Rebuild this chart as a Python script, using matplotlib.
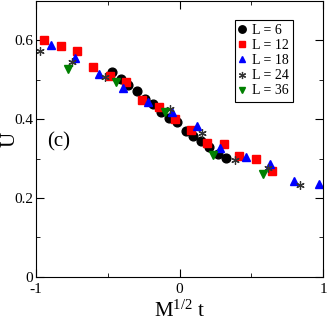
import numpy as np
import matplotlib
matplotlib.use("Agg")
import matplotlib.pyplot as plt
from matplotlib.ticker import MultipleLocator

plt.rcParams['font.family'] = 'Liberation Serif'
plt.rcParams['mathtext.fontset'] = 'custom'
plt.rcParams['mathtext.rm'] = 'Liberation Serif'
plt.rcParams['mathtext.it'] = 'Liberation Serif:italic'

# L = 6
x6 = [-0.468, -0.410, -0.357, -0.298, -0.243, -0.185, -0.129, -0.073, -0.015,
      0.043, 0.096, 0.152, 0.208, 0.270, 0.326]
u6 = [0.520, 0.501, 0.486, 0.472, 0.452, 0.437, 0.417, 0.402, 0.392,
      0.370, 0.357, 0.344, 0.330, 0.312, 0.302]
# L = 12
x12 = [-0.942, -0.826, -0.712, -0.601, -0.486, -0.373, -0.259, -0.145, -0.033,
       0.080, 0.194, 0.308, 0.417, 0.533, 0.645]
u12 = [0.600, 0.586, 0.572, 0.533, 0.510, 0.494, 0.448, 0.431, 0.399,
       0.372, 0.340, 0.338, 0.306, 0.298, 0.268]
# L = 18
x18 = [-0.898, -0.728, -0.561, -0.392, -0.222, -0.054, 0.120, 0.282,
       0.461, 0.631, 0.798, 0.970]
u18 = [0.587, 0.554, 0.514, 0.478, 0.444, 0.417, 0.382, 0.327,
       0.305, 0.286, 0.243, 0.236]
# L = 24
x24 = [-0.972, -0.747, -0.519, -0.066, 0.159, 0.387, 0.614, 0.840]
u24 = [0.572, 0.545, 0.507, 0.425, 0.364, 0.296, 0.275, 0.233]
# L = 36
x36 = [-0.779, -0.443, -0.103, 0.236, 0.580]
u36 = [0.528, 0.494, 0.417, 0.309, 0.262]

xticks = [-1, 0, 1]
xtick_labels = ['-1', '0', '1']
yticks = [0, 0.2, 0.4, 0.6]
ytick_labels = ['0', '0.2', '0.4', '0.6']

fig = plt.figure(figsize=(3.27, 3.27), dpi=100)
ax = fig.add_axes([0.110, 0.153, 0.878, 0.845])

ax.plot(x6, u6, 'o', color='black', markersize=6.3, label='L = 6')
ax.plot(x12, u12, 's', color='red', markersize=5.3, label='L = 12')
ax.plot(x18, u18, '^', color='blue', markersize=5.8, label='L = 18')
ax.plot(x24, u24, marker=(6, 2, 0), linestyle='none', color='#333333',
        markersize=6, markeredgewidth=0.9, label='L = 24')
ax.plot(x36, u36, 'v', color='green', markersize=5.8, label='L = 36')

ax.set_xlim(-1, 1)
ax.set_ylim(0, 0.7)
ax.xaxis.set_minor_locator(MultipleLocator(0.5))
ax.yaxis.set_minor_locator(MultipleLocator(0.1))
ax.set_xticks(xticks)
ax.set_xticklabels(xtick_labels)
ax.set_yticks(yticks)
ax.set_yticklabels(ytick_labels)
ax.tick_params(which='both', direction='in', top=True, right=True, labelsize=11)
ax.tick_params(axis='x', pad=4)
ax.tick_params(axis='y', pad=2)
ax.tick_params(which='major', length=6)
ax.tick_params(which='minor', length=3)

ax.set_xlabel(r'M$^{1/2}$ t', fontsize=15, labelpad=4)
fig.text(0.002, 0.575, 'U', fontsize=15, rotation=90, ha='left', va='center')
ax.text(-0.84, 0.342, '(c)', fontsize=15, ha='center', va='center')

leg = ax.legend(loc='upper right', bbox_to_anchor=(0.895, 0.93), fontsize=10,
                handlelength=0.5, handletextpad=0.45, borderpad=0.3,
                borderaxespad=0, labelspacing=0.15, markerscale=0.85,
                fancybox=False, edgecolor='black', framealpha=1)
leg.get_frame().set_linewidth(0.8)

fig.savefig('out.png', dpi=100)
